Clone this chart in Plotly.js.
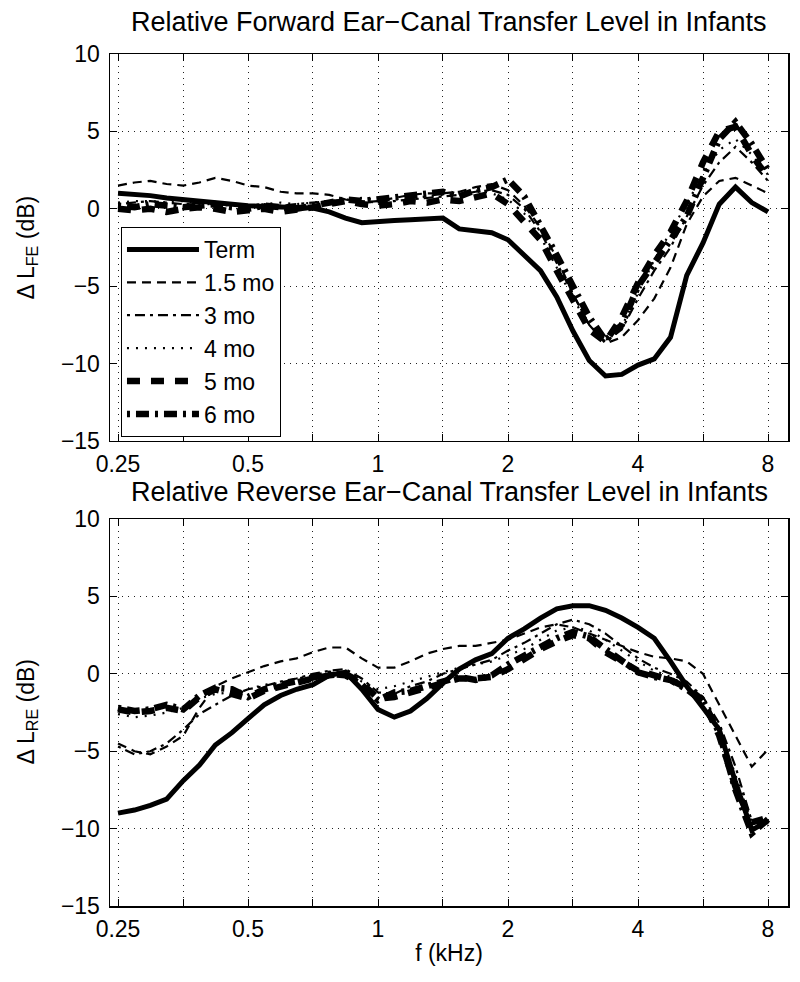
<!DOCTYPE html>
<html>
<head>
<meta charset="utf-8">
<script src="https://cdn.plot.ly/plotly-3.0.1.min.js"></script>
<style>html,body{margin:0;padding:0;background:#fff;}#chart{width:800px;height:982px;}</style>
</head>
<body>
<div id="chart"></div>
<script>
// Frequencies (kHz)
const freq = [0.25,0.273,0.297,0.324,0.354,0.386,0.42,0.459,0.5,0.545,0.595,0.648,0.707,0.771,0.841,0.917,1.0,1.091,1.189,1.297,1.414,1.542,1.682,1.834,2.0,2.181,2.378,2.594,2.828,3.084,3.364,3.668,4.0,4.362,4.757,5.187,5.657,6.169,6.727,7.336,8.0];

const seriesNames = ['Term','1.5 mo','3 mo','4 mo','5 mo','6 mo'];

// Forward (top panel), dB
const fwdTerm = [1.0,0.95,0.85,0.7,0.6,0.45,0.35,0.3,0.2,0.15,0.1,0.05,0.05,-0.2,-0.6,-0.9,-0.8,-0.75,-0.7,-0.65,-0.6,-1.3,-1.4,-1.55,-2.0,-3.0,-4.0,-5.7,-7.9,-9.8,-10.8,-10.7,-10.1,-9.7,-8.3,-4.3,-2.2,0.3,1.4,0.4,-0.2];
const fwd15 = [1.5,1.7,1.8,1.6,1.5,1.7,2.0,1.8,1.5,1.4,1.1,1.0,1.0,0.9,0.6,0.4,0.5,0.7,0.9,1.0,1.0,1.1,1.4,1.6,1.2,0.2,-1.2,-3.2,-5.5,-7.5,-8.7,-8.3,-7.2,-5.8,-3.8,-1.0,0.8,1.8,2.0,1.5,1.0];
const fwd3 = [0.3,0.4,0.5,0.4,0.3,0.4,0.3,0.3,0.2,0.3,0.2,0.3,0.4,0.5,0.6,0.5,0.4,0.5,0.6,0.7,0.8,0.9,1.1,1.2,0.9,0.0,-1.5,-3.5,-5.5,-7.5,-8.6,-7.8,-5.8,-4.0,-2.5,-0.5,1.5,3.0,4.0,3.0,1.8];
const fwd4 = [0.4,0.5,0.5,0.4,0.5,0.3,0.3,0.2,0.2,0.3,0.4,0.3,0.4,0.5,0.6,0.7,0.6,0.6,0.7,0.8,0.9,1.0,1.2,1.0,0.6,-0.3,-1.8,-3.8,-5.8,-7.5,-8.5,-7.6,-5.5,-3.3,-1.5,0.3,2.2,3.8,4.5,3.5,2.2];
const fwd5 = [0.0,-0.1,0.0,-0.2,0.0,0.1,0.0,-0.2,-0.1,0.0,-0.2,-0.1,0.1,0.3,0.5,0.3,0.2,0.3,0.5,0.4,0.6,0.5,0.8,1.0,0.3,-0.8,-2.0,-4.0,-6.0,-7.8,-8.6,-7.0,-4.8,-3.0,-1.5,0.5,3.0,5.0,5.3,3.5,2.0];
const fwd6 = [0.2,0.1,0.3,0.2,0.1,0.2,0.3,0.1,0.0,0.2,0.1,0.0,0.2,0.4,0.6,0.5,0.6,0.8,0.9,1.0,1.1,0.8,1.2,1.4,1.9,0.8,-1.0,-3.0,-5.0,-7.0,-8.5,-7.5,-5.0,-3.5,-2.0,-0.5,2.0,4.5,5.6,4.2,2.5];

// Reverse (bottom panel), dB
const revTerm = [-9.0,-8.8,-8.5,-8.1,-6.9,-5.9,-4.6,-3.8,-2.9,-2.0,-1.4,-1.0,-0.7,-0.1,0.1,-1.0,-2.3,-2.8,-2.4,-1.6,-0.6,0.3,0.9,1.3,2.3,2.9,3.6,4.2,4.4,4.4,4.1,3.6,3.0,2.3,0.8,-0.8,-2.2,-3.6,-7.0,-10.1,-9.5];
const rev15 = [-4.5,-5.0,-5.2,-4.7,-4.0,-2.2,-0.8,-0.3,0.1,0.5,0.8,1.0,1.4,1.7,1.7,1.0,0.4,0.4,0.8,1.3,1.6,1.8,1.8,2.0,2.2,2.6,3.0,3.2,3.0,2.6,2.2,1.8,1.4,1.1,1.0,0.8,0.0,-2.0,-4.0,-6.0,-4.9];
const rev3 = [-4.7,-5.2,-5.0,-4.5,-3.6,-2.6,-2.0,-1.4,-1.0,-0.8,-0.5,-0.3,0.0,0.2,0.3,-0.3,-1.2,-1.3,-0.8,-0.5,0.0,0.3,0.6,0.9,1.5,2.0,2.6,3.2,3.5,3.2,2.6,1.8,1.0,0.4,0.0,-0.5,-1.5,-3.2,-6.0,-9.5,-9.8];
const rev4 = [-2.6,-2.8,-2.7,-2.5,-2.2,-1.6,-1.3,-1.2,-1.0,-0.7,-0.6,-0.4,-0.2,0.0,0.2,-0.5,-1.0,-0.8,-0.5,-0.2,0.1,0.4,0.6,0.8,1.2,1.6,2.2,2.8,3.0,2.8,2.2,1.5,0.8,0.2,-0.2,-0.8,-1.8,-3.5,-6.5,-9.6,-9.6];
const rev5 = [-2.3,-2.5,-2.4,-2.2,-2.4,-1.5,-1.0,-1.3,-1.6,-1.1,-0.8,-0.6,-0.3,-0.1,0.0,-0.6,-1.6,-1.5,-1.2,-0.9,-0.6,-0.3,-0.3,-0.2,0.3,1.0,1.6,2.1,2.5,2.3,1.4,0.8,0.2,-0.1,-0.4,-0.9,-1.7,-4.0,-7.3,-9.6,-9.3];
const rev6 = [-2.2,-2.4,-2.3,-2.0,-2.3,-1.4,-0.9,-1.0,-1.5,-1.0,-0.7,-0.5,-0.2,0.0,-0.1,-0.7,-1.7,-1.2,-1.1,-0.8,-0.5,-0.2,-0.4,-0.1,0.6,1.2,1.8,2.3,2.7,2.4,1.6,0.9,0.1,-0.2,-0.4,-1.0,-1.8,-3.8,-7.5,-10.3,-9.4];

// Axis ticks
const xTickVals = [0.25,0.5,1,2,4,8];
const xTickText = ['0.25','0.5','1','2','4','8'];
const xMinorVals = [0.354,0.707,1.414,2.828,5.657];
const yTickVals = [-15,-10,-5,0,5,10];

const topTitle = 'Relative Forward Ear\u2212Canal Transfer Level in Infants';
const botTitle = 'Relative Reverse Ear\u2212Canal Transfer Level in Infants';
const topYLabel = '\u0394 L<sub>FE</sub> (dB)';
const botYLabel = '\u0394 L<sub>RE</sub> (dB)';
const xLabel = 'f (kHz)';

const styles = [
  {width:5, dash:'solid'},
  {width:2.2, dash:'9px,6px'},
  {width:2.2, dash:'3px,5px,10px,5px'},
  {width:2.2, dash:'2px,7px'},
  {width:6.5, dash:'13px,11px'},
  {width:6.5, dash:'3px,6px,13px,6px'}
];

const fwd = [fwdTerm, fwd15, fwd3, fwd4, fwd5, fwd6];
const rev = [revTerm, rev15, rev3, rev4, rev5, rev6];

const traces = [];
fwd.forEach((ys, i) => {
  traces.push({x: freq, y: ys, xaxis:'x', yaxis:'y', type:'scatter', mode:'lines',
    name: seriesNames[i], line:{color:'#000', width:styles[i].width, dash:styles[i].dash}});
});
rev.forEach((ys, i) => {
  traces.push({x: freq, y: ys, xaxis:'x2', yaxis:'y2', type:'scatter', mode:'lines',
    name: seriesNames[i], showlegend:false, line:{color:'#000', width:styles[i].width, dash:styles[i].dash}});
});

const FONT = 'Liberation Sans, Arial, Helvetica, sans-serif';
const xRange = [-0.6206, 0.9494];
const GRID = {showgrid:true, gridcolor:'#222', gridwidth:1, griddash:'1px,5px'};

function xAxis(anchor, withTitle) {
  const ax = Object.assign({
    type:'log', range:xRange, anchor:anchor,
    tickmode:'array', tickvals:xTickVals, ticktext:xTickText,
    ticks:'inside', ticklen:7, tickwidth:1, tickcolor:'#000',
    showline:true, linecolor:'#000', linewidth:1.5, mirror:'ticks',
    zeroline:false, tickfont:{family:FONT, size:23, color:'#000'},
    ticklabelstandoff:2,
    minor:Object.assign({tickmode:'array', tickvals:xMinorVals, ticks:'inside', ticklen:7, tickwidth:1, tickcolor:'#000'}, GRID)
  }, GRID);
  if (withTitle) ax.title = {text:xLabel, font:{family:FONT, size:23, color:'#000'}, standoff:4};
  return ax;
}
function yAxis(anchor, domain) {
  return Object.assign({
    range:[-15,10], domain:domain, anchor:anchor,
    tickmode:'array', tickvals:yTickVals,
    ticks:'inside', ticklen:7, tickwidth:1, tickcolor:'#000',
    showline:true, linecolor:'#000', linewidth:1.5, mirror:'ticks',
    zeroline:false, tickfont:{family:FONT, size:23, color:'#000'},
    ticklabelstandoff:4
  }, GRID);
}

const layout = {
  width:800, height:982,
  margin:{l:110, r:12, t:54, b:76},
  paper_bgcolor:'#fff', plot_bgcolor:'#fff',
  font:{family:FONT, color:'#000'},
  xaxis: xAxis('y', false),
  yaxis: yAxis('x', [0.5458, 1]),
  xaxis2: xAxis('y2', true),
  yaxis2: yAxis('x2', [0, 0.4542]),
  showlegend:true,
  legend:{x:0.0162, y:0.797, xanchor:'left', yanchor:'top',
    bgcolor:'#fff', bordercolor:'#000', borderwidth:1,
    font:{family:FONT, size:23, color:'#000'}, itemwidth:72, entrywidth:182, tracegroupgap:0},
  annotations:[
    {text:topTitle, xref:'paper', yref:'paper', x:0.5, y:(906-22)/852, xanchor:'center', yanchor:'middle',
     showarrow:false, font:{family:FONT, size:27, color:'#000'}},
    {text:botTitle, xref:'paper', yref:'paper', x:0.5, y:(906-492)/852, xanchor:'center', yanchor:'middle',
     showarrow:false, font:{family:FONT, size:27, color:'#000'}},
    {text:topYLabel, xref:'paper', yref:'paper', x:(27-110)/678, y:(906-247.5)/852, xanchor:'center', yanchor:'middle',
     textangle:-90, showarrow:false, font:{family:FONT, size:23, color:'#000'}},
    {text:botYLabel, xref:'paper', yref:'paper', x:(27-110)/678, y:(906-712.5)/852, xanchor:'center', yanchor:'middle',
     textangle:-90, showarrow:false, font:{family:FONT, size:23, color:'#000'}}
  ]
};

Plotly.newPlot('chart', traces, layout, {staticPlot:true, displayModeBar:false});
</script>
</body>
</html>
